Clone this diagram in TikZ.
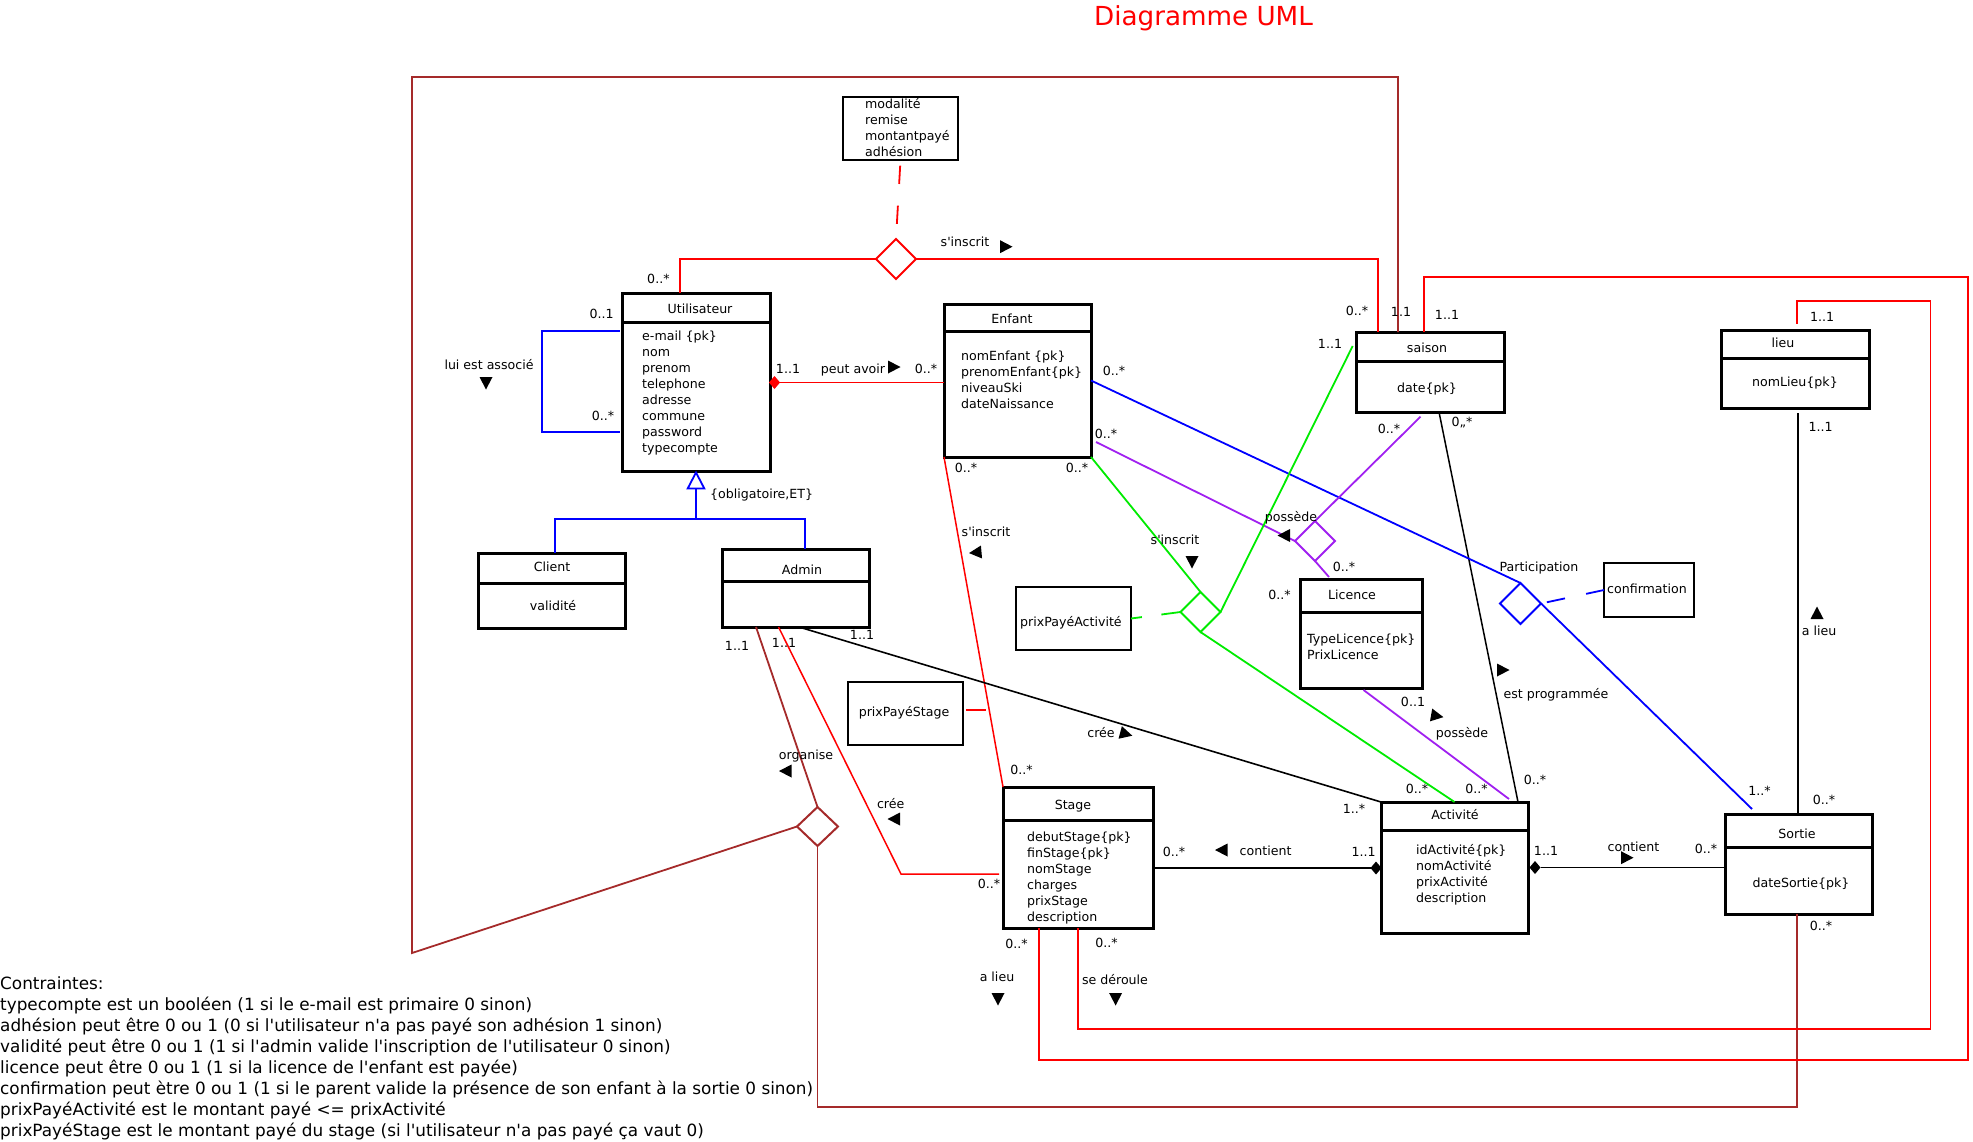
\documentclass[tikz,border=0pt]{standalone}
\usepackage{fontspec}
\setmainfont{DejaVu Sans}
\usetikzlibrary{shapes.geometric}
\definecolor{ured}{RGB}{255,0,0}
\definecolor{ubrown}{RGB}{165,42,42}
\definecolor{ublue}{RGB}{0,0,255}
\definecolor{ugreen}{RGB}{0,235,0}
\definecolor{upurple}{RGB}{160,32,240}
\newcommand\fsS{\fontsize{12.6}{16}\selectfont}
\newcommand\fsC{\fontsize{16.85}{21}\selectfont}
\newcommand\fsT{\fontsize{26.2}{30}\selectfont}
\newcommand\myq{\textquotesingle}
\newcommand\dirtri[3]{\fill[shift={(#1,#2)},rotate=#3] (6.5,0) -- (-6,6.5) -- (-6,-6.5) -- cycle;}
\newcommand\umlclass[9]{%
  \node[clsbox, minimum width={#4pt-#2pt}, minimum height={#5pt-#3pt}] (#1) at (#2,#3) {};
  \draw[line width=3pt] (#2,#6) -- (#4,#6);
  \node[lbl] (#1-t) at (#8,#9) {#7};
}
\tikzset{
  lbl/.style={font=\fsS, inner sep=0pt, text height=9.2pt, text depth=0pt},
  lblw/.style={lbl, anchor=west},
  cst/.style={font=\fsC, inner sep=0pt, anchor=west, text height=12.2pt, text depth=0pt},
  clsbox/.style={draw, line width=3pt, inner sep=0pt, outer sep=0pt, anchor=north west},
  smbox/.style={draw, line width=2.2pt, inner sep=0pt, outer sep=0pt, anchor=north west},
  con/.style={line width=1.8pt},
  rd/.style={con, ured}, brn/.style={con, ubrown}, bl/.style={con, ublue},
  gr/.style={con, ugreen}, pu/.style={con, upurple}, blk/.style={con, black},
  assoc/.style={diamond, draw, line width=2pt, inner sep=0pt, outer sep=0pt,
    minimum width=40pt, minimum height=40pt, fill=white},
  comp/.style={diamond, inner sep=0pt, outer sep=0pt, minimum width=11pt, minimum height=13pt},
}
\begin{document}
\begin{tikzpicture}[x=1pt,y=-1pt]
\useasboundingbox (0,0) rectangle (1973,1141);

% ---------- class boxes ----------
\umlclass{ut}{622}{293}{770}{471}{322}{Utilisateur}{700}{309}
\umlclass{en}{944}{304}{1091}{457}{331}{Enfant}{1012}{319}
\umlclass{sa}{1356}{332}{1504}{412}{361}{saison}{1427}{348}
\umlclass{li}{1721}{330}{1869}{408}{358}{lieu}{1783}{343}
\umlclass{lic}{1300}{579}{1422}{688}{612}{Licence}{1352}{595}
\umlclass{cl}{478.5}{553}{625.5}{628}{583}{Client}{552}{567}
\umlclass{ad}{722.5}{549}{869.5}{627}{581}{Admin}{802}{570}
\umlclass{st}{1003}{787}{1153}{928}{820}{Stage}{1073}{805}
\umlclass{ac}{1381}{802}{1528}{933}{830}{Activité}{1455}{815}
\umlclass{so}{1725}{814}{1872}{914}{847}{Sortie}{1797}{834}

\foreach \t [count=\i] in {e-mail \{pk\},nom,prenom,telephone,adresse,commune,password,typecompte}
  \node[lblw] (ut-a\i) at (642,335.7+16*\i-16) {\t};
\foreach \t [count=\i] in {nomEnfant \{pk\},prenomEnfant\{pk\},niveauSki,dateNaissance}
  \node[lblw] (en-a\i) at (961,356+16*\i-16) {\t};
\foreach \t [count=\i] in {debutStage\{pk\},finStage\{pk\},nomStage,charges,prixStage,description}
  \node[lblw] (st-a\i) at (1027,837+16*\i-16) {\t};
\foreach \t [count=\i] in {idActivité\{pk\},nomActivité,prixActivité,description}
  \node[lblw] (ac-a\i) at (1416,850+16*\i-16) {\t};
\node[lbl] (sa-a1) at (1427,388) {date\{pk\}};
\node[lbl] (li-a1) at (1795,382) {nomLieu\{pk\}};
\node[lblw] (lic-a1) at (1307,639) {TypeLicence\{pk\}};
\node[lblw] (lic-a2) at (1307,655) {PrixLicence};
\node[lbl] (cl-a1) at (553,606) {validité};
\node[lbl] (so-a1) at (1801,883) {dateSortie\{pk\}};

% ---------- attribute-only boxes ----------
\node[smbox, minimum width=115pt, minimum height=63pt] (mod) at (843,97) {};
\foreach \t [count=\i] in {modalité,remise,montantpayé,adhésion}
  \node[lblw] (mod-a\i) at (865,103.7+16*\i-16) {\t};
\node[smbox, minimum width=115pt, minimum height=63pt] (ppa) at (1016,587) {};
\node[lblw] (ppa-a) at (1020,622) {prixPayéActivité};
\node[smbox, minimum width=90pt, minimum height=54pt] (conf) at (1604,563) {};
\node[lbl] (conf-a) at (1647,589) {confirmation};
\node[smbox, minimum width=115pt, minimum height=63pt] (pps) at (848,682) {};
\node[lbl] (pps-a) at (904,711.7) {prixPayéStage};

% ---------- association diamonds ----------
\node[assoc, draw=ured] (dS) at (896,259) {};
\node[assoc, draw=ubrown, minimum width=41pt, minimum height=39pt] (dO) at (817.5,826.5) {};
\node[assoc, draw=upurple] (dP) at (1315,541) {};
\node[assoc, draw=ugreen] (dG) at (1200.5,612) {};
\node[assoc, draw=ublue, minimum width=41pt, minimum height=41pt] (dB) at (1520.5,603.5) {};
\node[comp, fill=ured] (cU) at (774.5,382.5) {};
\node[comp, fill=black] (cS) at (1376,868) {};
\node[comp, fill=black] (cA) at (1535,867.5) {};

% ---------- connectors ----------
% brown: organise
\draw[brn] (dO.west) -- (412,953) -- (412,77) -- (1398,77) -- ([xshift=42pt]sa.north west);
\draw[brn] ([xshift=33.5pt]ad.south west) -- (dO.north);
\draw[brn] (dO.south) -- (817.5,1107) -- (1797,1107) -- ([xshift=72pt]so.south west);
% red: s'inscrit Utilisateur - saison
\draw[rd] ([xshift=58pt]ut.north west) |- (dS.west);
\draw[rd] (dS.east) -| ([xshift=22pt]sa.north west);
\draw[rd, dash pattern=on 18.3pt off 21.7pt, dash phase=34.3pt] (mod.south) -- (dS.north);
% red: peut avoir
\draw[rd] (cU.east) -- (en.west |- cU.east);
% blue: lui est associe
\draw[bl] ([xshift=-2.5pt,yshift=-38pt]ut.north west) -- ++(-77.5,0) -- ++(0,101) -- ++(77.5,0);
% blue: generalisation
\draw[bl, fill=white] ([yshift=-1.5pt]ut.south) -- ++(-8.3,16) -- ++(16.6,0) -- cycle;
\draw[bl] ([yshift=-17.5pt]ut.south) -- ([yshift=-48pt]ut.south);
\draw[bl] ([xshift=76.5pt]cl.north west) |- ([xshift=82.5pt,yshift=30pt]ad.north west) -- ([xshift=82.5pt]ad.north west);
% red: Enfant - Stage
\draw[rd, line width=1.5pt] (en.south west) -- (st.north west);
\draw[rd] ([xshift=3pt,yshift=3.5pt]pps.east) -- ++(20,0);
% red: Admin - Stage
\draw[rd, line width=1.5pt] ([xshift=56pt]ad.south west) -- (901,874) -- ([xshift=-4pt,yshift=-16.5pt]st.west);
% black: Admin - Activite
\draw[blk, line width=1.6pt] ([xshift=76.5pt]ad.south west) -- (ac.north west);
% black: compositions
\draw[blk] (st.east |- cS.west) -- (cS.west);
\draw[blk] (cA.east) -- (so.west |- cA.east);
% black: saison - Activite
\draw[blk, line width=1.5pt] ([xshift=83pt]sa.south west) -- ([xshift=137pt]ac.north west);
% black: lieu - Sortie
\draw[blk] ([xshift=77pt,yshift=-5pt]li.south west) -- ([xshift=73pt]so.north west);
% blue: participation
\draw[bl] (en.east) -- (dB.north);
\draw[bl] (dB.east) -- ([xshift=27pt,yshift=5pt]so.north west);
\draw[bl, dash pattern=on 18.5pt off 21.6pt, dash phase=34.1pt] (dB.east) -- (conf.west);
% purple: possede (ternary)
\draw[pu] ([xshift=5pt,yshift=-61.5pt]en.east) -- (dP.west);
\draw[pu] ([xshift=64.5pt,yshift=-4.7pt]sa.south west) -- (dP.north);
\draw[pu] (dP.south) -- ([xshift=29pt,yshift=2pt]lic.north west);
% purple: Licence - Activite
\draw[pu] ([xshift=63.5pt,yshift=-2pt]lic.south west) -- ([xshift=128pt,yshift=3pt]ac.north west);
% green: s'inscrit (ternary)
\draw[gr] (en.south east) -- (dG.north);
\draw[gr] ([xshift=-3.3pt,yshift=-14pt]sa.north west) -- (dG.east);
\draw[gr] (dG.south) -- (ac.north);
\draw[gr, dash pattern=on 19pt off 19.6pt, dash phase=8pt] (ppa.east) -- (dG.west);
% red: Stage a lieu saison
\draw[rd] ([xshift=35.7pt]st.south west) |- (1968,1060) |- (1424,277) -- ([xshift=68pt]sa.north west);
% red: Stage se deroule lieu
\draw[rd] ([xshift=75pt]st.south west) |- (1930.5,1029) |- (1797,301) -- ([xshift=76pt,yshift=6pt]li.north west);

% ---------- labels ----------
\node[font=\fsT, text=ured, inner sep=0pt, anchor=base] (title) at (1203.5,25) {Diagramme UML};
\node[lbl] (m1) at (658.4,279.3) {0..*};
\node[lbl] (n1) at (965,241.7) {s\myq inscrit};
\dirtri{1006}{246.7}{0}
\node[lbl] (m2) at (1357,311) {0..*};
\node[lbl] (m3) at (1401,312) {1.1};
\node[lbl] (m4) at (1447,314.7) {1..1};
\node[lbl] (m5) at (601.6,314) {0..1};
\node[lbl] (m6) at (603,416) {0..*};
\node[lbl] (n2) at (489,365) {lui est associé};
\dirtri{486}{383}{-90}
\node[lbl] (n3) at (761.6,494) {\{obligatoire,ET\}};
\node[lbl] (m7) at (788,369) {1..1};
\node[lbl] (n4) at (853,369) {peut avoir};
\dirtri{894}{367}{0}
\node[lbl] (m8) at (926,369) {0..*};
\node[lbl] (m9) at (966,467.7) {0..*};
\node[lbl] (m10) at (1077,467.7) {0..*};
\node[lbl] (m11) at (1114,370.7) {0..*};
\node[lbl] (m12) at (1106,434) {0..*};
\node[lbl] (m13) at (1330,344) {1..1};
\node[lbl] (m14) at (1389,429) {0..*};
\node[lbl] (m15) at (1462,421.7) {0,,*};
\node[lbl] (n5) at (1291,516.7) {possède};
\dirtri{1284}{535.5}{180}
\node[lbl] (m16) at (1344,567) {0..*};
\node[lbl] (m17) at (1279.5,595) {0..*};
\node[lbl] (n6) at (986,532) {s\myq inscrit};
\dirtri{975.5}{552.5}{185}
\node[lbl] (n7) at (1175,540) {s\myq inscrit};
\dirtri{1192}{562}{-90}
\node[lbl] (n8) at (1539,567) {Participation};
\node[lbl] (m18) at (737,646) {1..1};
\node[lbl] (m19) at (784,643) {1..1};
\node[lbl] (m20) at (862,635) {1..1};
\node[lbl] (n9) at (806,755) {organise};
\dirtri{785.5}{771}{180}
\node[lbl] (n10) at (890.7,804) {crée};
\dirtri{894}{819}{180}
\node[lbl] (n11) at (1101,733) {crée};
\dirtri{1126}{734}{-15}
\node[lbl] (m21) at (1021.5,770) {0..*};
\node[lbl] (m22) at (989,884) {0..*};
\node[lbl] (m23) at (1354,809) {1..*};
\node[lbl] (m24) at (1174,852) {0..*};
\dirtri{1221.5}{850}{180}
\node[lbl] (n12) at (1265.6,850.7) {contient};
\node[lbl] (m25) at (1363.6,851.7) {1..1};
\node[lbl] (m26) at (1546,850.7) {1..1};
\node[lbl] (n13) at (1633.5,846.7) {contient};
\dirtri{1627}{857.7}{0}
\node[lbl] (m27) at (1706,849) {0..*};
\dirtri{1503}{670}{0}
\node[lbl] (n14) at (1556,694.3) {est programmée};
\node[lbl] (m28) at (1535,780) {0..*};
\node[lbl] (m29) at (1413,701.7) {0..1};
\dirtri{1437}{716}{-10}
\node[lbl] (n15) at (1462,732.7) {possède};
\node[lbl] (m30) at (1476.5,789) {0..*};
\node[lbl] (m31) at (1417,789) {0..*};
\node[lbl] (m32) at (1759.5,790.7) {1..*};
\node[lbl] (m33) at (1824,800) {0..*};
\node[lbl] (m34) at (1820.7,426.7) {1..1};
\dirtri{1817}{613}{90}
\node[lbl] (n16) at (1819,630.7) {a lieu};
\node[lbl] (m35) at (1822,316.7) {1..1};
\node[lbl] (m36) at (1821,925.5) {0..*};
\node[lbl] (m37) at (1016.5,944) {0..*};
\node[lbl] (n17) at (997,976.7) {a lieu};
\dirtri{998}{999}{-90}
\node[lbl] (m38) at (1106.5,942.7) {0..*};
\node[lbl] (n18) at (1115,980) {se déroule};
\dirtri{1115.6}{999}{-90}

% ---------- constraints ----------
\node[cst] (c1) at (0,983.3) {Contraintes:};
\node[cst] (c2) at (0,1004.3) {typecompte est un booléen (1 si le e-mail est primaire 0 sinon)};
\node[cst] (c3) at (0,1025.3) {adhésion peut être 0 ou 1 (0 si l\myq utilisateur n\myq a pas payé son adhésion 1 sinon)};
\node[cst] (c4) at (0,1046.3) {validité peut être 0 ou 1 (1 si l\myq admin valide l\myq inscription de l\myq utilisateur 0 sinon)};
\node[cst] (c5) at (0,1067.3) {licence peut être 0 ou 1 (1 si la licence de l\myq enfant est payée)};
\node[cst] (c6) at (0,1088.3) {confirmation peut ètre 0 ou 1 (1 si le parent valide la présence de son enfant à la sortie 0 sinon)};
\node[cst] (c7) at (0,1109.3) {prixPayéActivité est le montant payé <= prixActivité};
\node[cst] (c8) at (0,1130.3) {prixPayéStage est le montant payé du stage (si l\myq utilisateur n\myq a pas payé ça vaut 0)};
\end{tikzpicture}
\end{document}
